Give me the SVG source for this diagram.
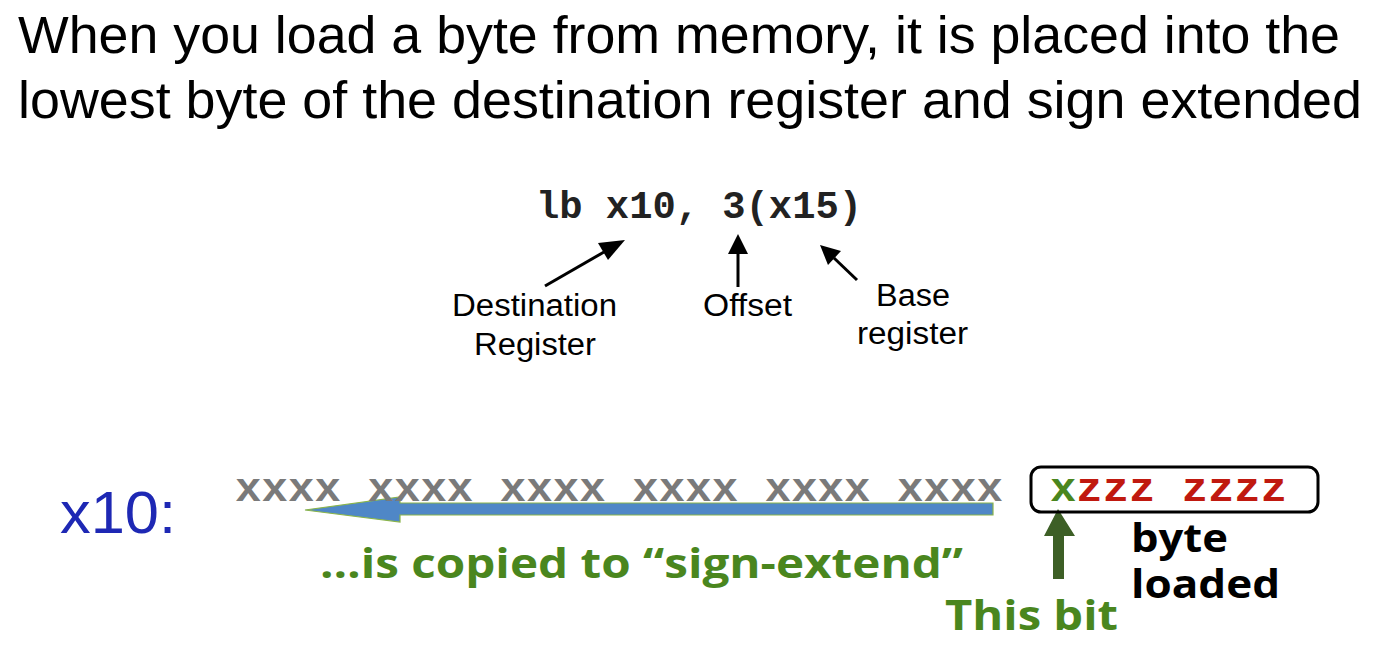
<svg xmlns="http://www.w3.org/2000/svg" width="1385" height="650" viewBox="0 0 1385 650">
<defs>
<style>
.title{font-family:"Liberation Sans",Arial,sans-serif;font-size:51px;fill:#000}
.lbl{font-family:"Liberation Sans",Arial,sans-serif;font-size:31px;fill:#000}
.code{font-family:"Liberation Mono","Courier New",monospace;font-weight:bold;font-size:38px;fill:#222}
.bits{font-family:"Liberation Mono","Courier New",monospace;font-weight:bold;font-size:40px}
.gtxt{font-family:"Open Sans","Noto Sans",sans-serif;font-weight:bold;font-size:42px;fill:#4a861e}
.btxt{font-family:"Open Sans","Noto Sans",sans-serif;font-weight:bold;font-size:39px;fill:#000}
.conn{stroke:#000;stroke-width:3;fill:none}
</style>
</defs>

<g id="title">
<text class="title" x="18" y="53" textLength="1322" lengthAdjust="spacingAndGlyphs">When you load a byte from memory, it is placed into the</text>
<text class="title" x="18" y="118" textLength="1344" lengthAdjust="spacingAndGlyphs">lowest byte of the destination register and sign extended</text>
</g>

<g id="instruction">
<text class="code" x="536" y="218" textLength="326" lengthAdjust="spacingAndGlyphs">lb x10, 3(x15)</text>
</g>

<g id="dest-label">
<text class="lbl" x="452" y="316" textLength="165" lengthAdjust="spacingAndGlyphs">Destination</text>
<text class="lbl" x="474" y="355" textLength="122" lengthAdjust="spacingAndGlyphs">Register</text>
</g>
<g id="offset-label">
<text class="lbl" x="703" y="316" textLength="89" lengthAdjust="spacingAndGlyphs">Offset</text>
</g>
<g id="base-label">
<text class="lbl" x="876" y="306" textLength="74" lengthAdjust="spacingAndGlyphs">Base</text>
<text class="lbl" x="857" y="344" textLength="111" lengthAdjust="spacingAndGlyphs">register</text>
</g>

<g id="connectors">
<line x1="545" y1="286" x2="604" y2="252" class="conn"/>
<path d="M625,240 L598,243 L608,260 z" fill="#000"/>
<line x1="738" y1="287" x2="738" y2="252" class="conn"/>
<path d="M738,234 L728,254 L748,254 z" fill="#000"/>
<line x1="857" y1="280" x2="834" y2="258" class="conn"/>
<path d="M820,245 L828,265 L841,251 z" fill="#000"/>
<path d="M993,503 L400,503 L400,497 L305,510 L400,522 L400,515 L993,515 z" fill="#4f87c7" stroke="#8ab44a" stroke-width="1.2"/>
<path d="M1053,579 L1053,536 L1044,536 L1058,509 L1075,536 L1064,536 L1064,579 z" fill="#3d5f26"/>
</g>

<g id="x10-label">
<text x="60" y="533" font-family="'Liberation Sans',Arial,sans-serif" font-size="60" fill="#1e28b4" textLength="116" lengthAdjust="spacingAndGlyphs">x10:</text>
</g>

<g id="upper-bits">
<text class="bits" x="235" y="501" fill="#7a7a7a" textLength="768" lengthAdjust="spacingAndGlyphs">xxxx xxxx xxxx xxxx xxxx xxxx</text>
</g>

<g id="byte-box">
<rect x="1031" y="467" width="287" height="45" rx="10" ry="10" fill="none" stroke="#000" stroke-width="3"/>
<text class="bits" x="1050" y="501" textLength="237" lengthAdjust="spacingAndGlyphs"><tspan fill="#4a861e">x</tspan><tspan fill="#c0190f">zzz zzzz</tspan></text>
</g>

<g id="copied-label">
<text class="gtxt" x="320" y="578" textLength="643" lengthAdjust="spacingAndGlyphs">…is copied to “sign-extend”</text>
</g>

<g id="thisbit-label">
<text class="gtxt" x="945" y="630" textLength="173" lengthAdjust="spacingAndGlyphs">This bit</text>
</g>

<g id="byte-loaded-label">
<text class="btxt" x="1131" y="552" textLength="97" lengthAdjust="spacingAndGlyphs">byte</text>
<text class="btxt" x="1131" y="598" textLength="149" lengthAdjust="spacingAndGlyphs">loaded</text>
</g>
</svg>
